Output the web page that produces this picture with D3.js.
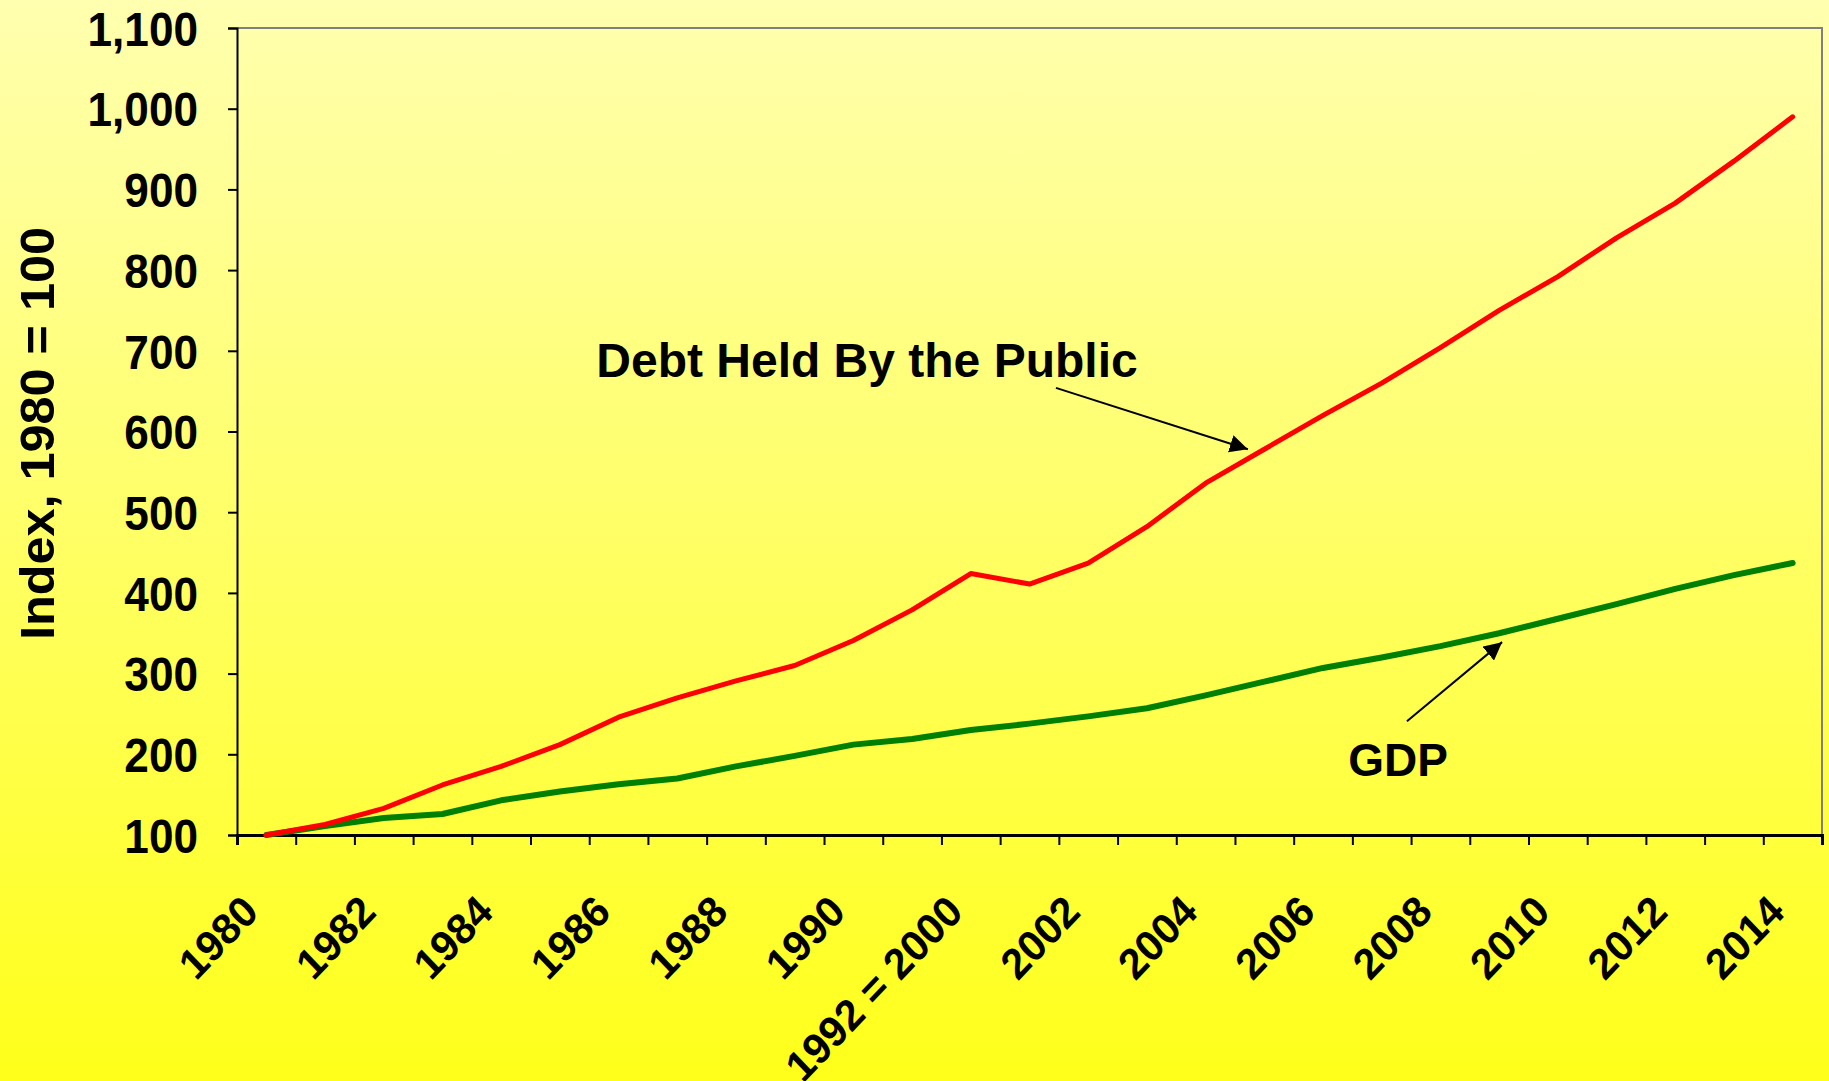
<!DOCTYPE html>
<html>
<head>
<meta charset="utf-8">
<script src="https://cdn.jsdelivr.net/npm/d3@7"></script>
<style>
html, body { margin: 0; padding: 0; overflow: hidden; }
svg { display: block; }
text { font-family: "Liberation Sans", Arial, sans-serif; font-weight: bold; fill: #000; }
</style>
</head>
<body>
<svg width="1829" height="1081"></svg>
<script>
"use strict";

// years on the category axis (1992-1999 are folded into one slot)
var categories = ["1980", "1981", "1982", "1983", "1984", "1985", "1986", "1987", "1988", "1989",
	"1990", "1991", "1992 = 2000", "2001", "2002", "2003", "2004", "2005", "2006", "2007",
	"2008", "2009", "2010", "2011", "2012", "2013", "2014"];

var debt = [100, 113, 133, 162, 185, 212, 246, 270, 291, 310,
	341, 379, 424, 411, 437, 482, 536, 578, 620, 660,
	704, 750, 792, 840, 883, 935, 990];

var gdp = [100, 111, 121, 126, 143, 154, 163, 170, 185, 198,
	212, 219, 230, 238, 247, 257, 273, 290, 307, 320,
	334, 350, 368, 386, 405, 422, 437];

var yTicks = [100, 200, 300, 400, 500, 600, 700, 800, 900, 1000, 1100];

var margin = {top: 28, right: 7, bottom: 246, left: 237};
var W = 1829, H = 1081;
var width = W - margin.left - margin.right;
var height = H - margin.top - margin.bottom;

var svg = d3.select("svg");

var defs = svg.append("defs");
var grad = defs.append("linearGradient").attr("id", "bg")
	.attr("x1", 0).attr("y1", 0).attr("x2", 0).attr("y2", 1);
grad.append("stop").attr("offset", "0%").attr("stop-color", "#ffffb0");
grad.append("stop").attr("offset", "100%").attr("stop-color", "#ffff1a");

defs.append("marker").attr("id", "arrow")
	.attr("viewBox", "0 0 10 10").attr("refX", 10).attr("refY", 5)
	.attr("markerWidth", 9).attr("markerHeight", 9)
	.attr("markerUnits", "strokeWidth")
	.attr("orient", "auto")
	.append("path").attr("d", "M0,0 L10,5 L0,10 z").attr("fill", "#000");

svg.append("rect").attr("width", W).attr("height", H).attr("fill", "url(#bg)");

var g = svg.append("g").attr("transform", "translate(" + margin.left + "," + margin.top + ")");

var x = d3.scaleBand().domain(categories).range([0, width]);
var xi = d3.scaleLinear().domain([-0.5, categories.length - 0.5]).range([0, width]);
var y = d3.scaleLinear().domain([100, 1100]).range([height, 0]);

// gray frame on top and right
g.append("path")
	.attr("d", "M0,0 H" + width + " V" + height)
	.attr("fill", "none").attr("stroke", "#808080").attr("stroke-width", 2);

// y axis
var yAxis = g.append("g").call(d3.axisLeft(y).tickValues(yTicks).tickSize(9).tickPadding(30).tickFormat(d3.format(",")));
yAxis.select(".domain").attr("stroke", "#000").attr("stroke-width", 2);
yAxis.selectAll(".tick line").attr("stroke", "#000").attr("stroke-width", 2);
yAxis.selectAll(".tick text")
	.attr("font-size", 48)
	.attr("font-family", null)
	.attr("x", -39 / 0.92)
	.attr("dy", "0.36em")
	.attr("transform", "scale(0.92,1)");

// x axis: ticks on category boundaries
var xTicks = g.append("g").attr("transform", "translate(0," + height + ")")
	.call(d3.axisBottom(d3.scaleLinear().domain([0, categories.length]).range([0, width]))
		.tickValues(d3.range(0, categories.length + 1)).tickSize(10).tickFormat(""));
xTicks.select(".domain").attr("stroke", "#000").attr("stroke-width", 3);
xTicks.selectAll(".tick line").attr("stroke", "#000").attr("stroke-width", 2);

// x labels, every other category
var xLabels = g.append("g").attr("transform", "translate(0," + height + ")")
	.call(d3.axisBottom(x).tickSize(0).tickFormat(function(d, i) { return i % 2 === 0 ? d : ""; }));
xLabels.select(".domain").remove();
xLabels.selectAll(".tick text")
	.attr("font-size", 41)
	.attr("font-family", null)
	.attr("text-anchor", "end")
	.attr("y", 0).attr("dy", 0)
	.attr("transform", "translate(-6,79) scale(1,1.05) rotate(-45)");

// axis title
svg.append("text")
	.attr("transform", "translate(54," + (margin.top + height / 2 + 2) + ") scale(1,1.05) rotate(-90)")
	.attr("text-anchor", "middle")
	.attr("font-size", 48)
	.text("Index, 1980 = 100");

// lines
var line = d3.line()
	.x(function(d, i) { return xi(i); })
	.y(function(d) { return y(d); });

g.append("path").datum(gdp)
	.attr("d", line)
	.attr("fill", "none").attr("stroke", "#008000").attr("stroke-width", 6)
	.attr("stroke-linejoin", "round").attr("stroke-linecap", "round");

g.append("path").datum(debt)
	.attr("d", line)
	.attr("fill", "none").attr("stroke", "#ff0000").attr("stroke-width", 5)
	.attr("stroke-linejoin", "round").attr("stroke-linecap", "round");

// annotations
g.append("text")
	.attr("x", xi(5.62)).attr("y", y(667))
	.attr("font-size", 48)
	.text("Debt Held By the Public");

g.append("line")
	.attr("x1", xi(13.45)).attr("y1", y(654))
	.attr("x2", xi(16.72)).attr("y2", y(578))
	.attr("stroke", "#000").attr("stroke-width", 2)
	.attr("marker-end", "url(#arrow)");

g.append("text")
	.attr("x", xi(18.43)).attr("y", y(173))
	.attr("font-size", 46)
	.text("GDP");

g.append("line")
	.attr("x1", xi(19.43)).attr("y1", y(241))
	.attr("x2", xi(21.05)).attr("y2", y(339))
	.attr("stroke", "#000").attr("stroke-width", 2)
	.attr("marker-end", "url(#arrow)");
</script>
</body>
</html>
